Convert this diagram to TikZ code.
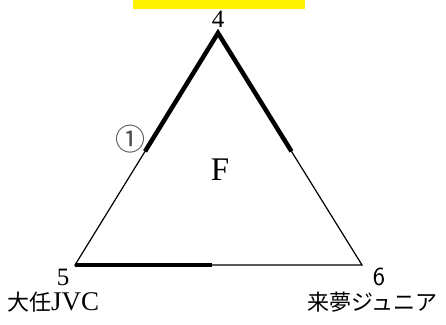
\documentclass[tikz,border=0pt]{standalone}
\usepackage{fontspec}
\newfontfamily\jpfont{Noto Sans CJK JP}
\newfontfamily\serifb{Liberation Serif}
\usetikzlibrary{calc}

\begin{document}
\begin{tikzpicture}[x=1pt, y=-1pt, thin/.style={line width=1.2pt}, heavy/.style={line width=4.5pt},
  num/.style={font=\serifb\fontsize{25}{25}\selectfont, inner sep=0pt}, jp/.style={font=\jpfont\fontsize{22}{22}\selectfont, inner sep=0pt}]
\useasboundingbox (0,0) rectangle (446,324);
\fill[yellow] (133,0) rectangle (305,9);
\coordinate (V4) at (218,33);\coordinate (V5) at (75,265);\coordinate (V6) at (362,265);
\draw[thin] (V4) -- (V5) -- (V6) -- cycle;
\coordinate (L) at ($(V4)!0.51!(V5)$);\coordinate (R) at ($(V4)!0.51!(V6)$);\coordinate (B) at (212,265);
\draw[heavy] (L) -- (V4) -- (R);\draw[heavy] (V5) -- (B);
\node[num] (n4) at (218,19) {4};
\node[num] (n5) at (63,277) {5};
\node[num, font=\fontsize{26}{26}\selectfont\sffamily] (n6) at (379,277) {6};
\node[jp, anchor=west] (t5) at (7,302) {大任{\serifb\fontsize{27}{27}\selectfont JVC}};
\node[jp, anchor=east] (t6) at (438,302) {来夢ジュニア};
\node[jp, font=\jpfont\fontsize{30}{30}\selectfont, gray!60!black] (c1) at (130,139) {①};
\node[num, font=\serifb\fontsize{33}{33}\selectfont] (F) at (220,170) {F};
\end{tikzpicture}
\end{document}
